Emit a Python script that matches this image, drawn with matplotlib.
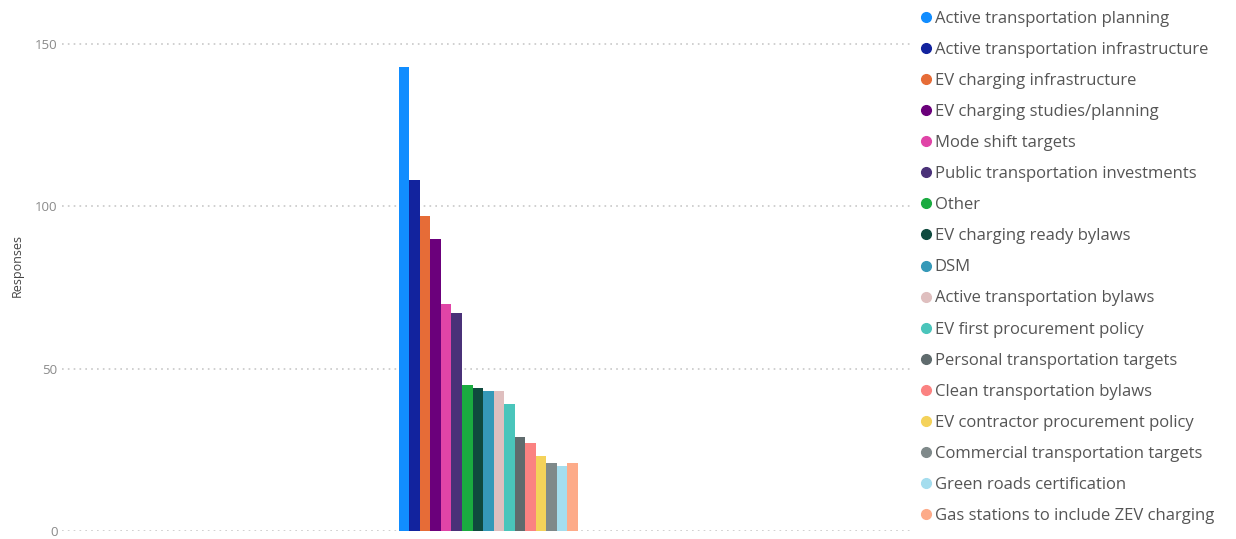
import matplotlib.pyplot as plt
import numpy as np
from matplotlib.lines import Line2D

plt.rcParams['font.family'] = ['Open Sans', 'DejaVu Sans']

actions = [
    'Active transportation planning',
    'Active transportation infrastructure',
    'EV charging infrastructure',
    'EV charging studies/planning',
    'Mode shift targets',
    'Public transportation investments',
    'Other',
    'EV charging ready bylaws',
    'DSM',
    'Active transportation bylaws',
    'EV first procurement policy',
    'Personal transportation targets',
    'Clean transportation bylaws',
    'EV contractor procurement policy',
    'Commercial transportation targets',
    'Green roads certification',
    'Gas stations to include ZEV charging',
]
responses = [143, 108, 97, 90, 70, 67, 45, 44, 43, 43, 39, 29, 27, 23, 21, 20, 21]
colors = [
    '#118DFF', '#12239E', '#E66C37', '#6B007B', '#E044A7', '#4A3178',
    '#1AAB40', '#0F4A3E', '#3599B8', '#DFBFBF', '#4AC5BB', '#5F6B6D',
    '#FB8281', '#F4D25A', '#7F898A', '#A4DDEE', '#FDAB89',
]
y_ticks = [0, 50, 100, 150]

fig = plt.figure(figsize=(12.36, 5.39), dpi=100)
ax = fig.add_axes([0.050, 0.0148, 0.686, 0.9852])

bar_w = 0.0124
n = len(responses)
xs = (np.arange(n) - (n - 1) / 2) * bar_w + 0.003
ax.bar(xs, responses, width=bar_w, color=colors, linewidth=0)

ax.set_xlim(-0.5, 0.5)
ax.set_ylim(0, 163.5)
ax.set_yticks(y_ticks)
ax.set_xticks([])
ax.tick_params(axis='y', length=0, pad=3, labelsize=9.5, labelcolor='#8a8a8a')
ax.grid(axis='y', color='#c8c8c8', linestyle=(0, (1, 2.5)), linewidth=1.2)
ax.set_axisbelow(True)
for s in ax.spines.values():
    s.set_visible(False)

ax.set_ylabel('Responses', fontsize=9, color='#444444')
ax.yaxis.set_label_coords(-0.045, 0.5)

# legend drawn as a column of dots and labels on the right
handles = [Line2D([], [], marker='o', linestyle='', markersize=7,
                  markerfacecolor=c, markeredgecolor=c) for c in colors]
fig.legend(handles, actions, loc='upper left', bbox_to_anchor=(0.740, 0.9925),
           frameon=False, fontsize=12, handlelength=0.6, handletextpad=0.2,
           labelspacing=0.905, borderaxespad=0, labelcolor='#555555')

fig.savefig('out.png', dpi=100)
